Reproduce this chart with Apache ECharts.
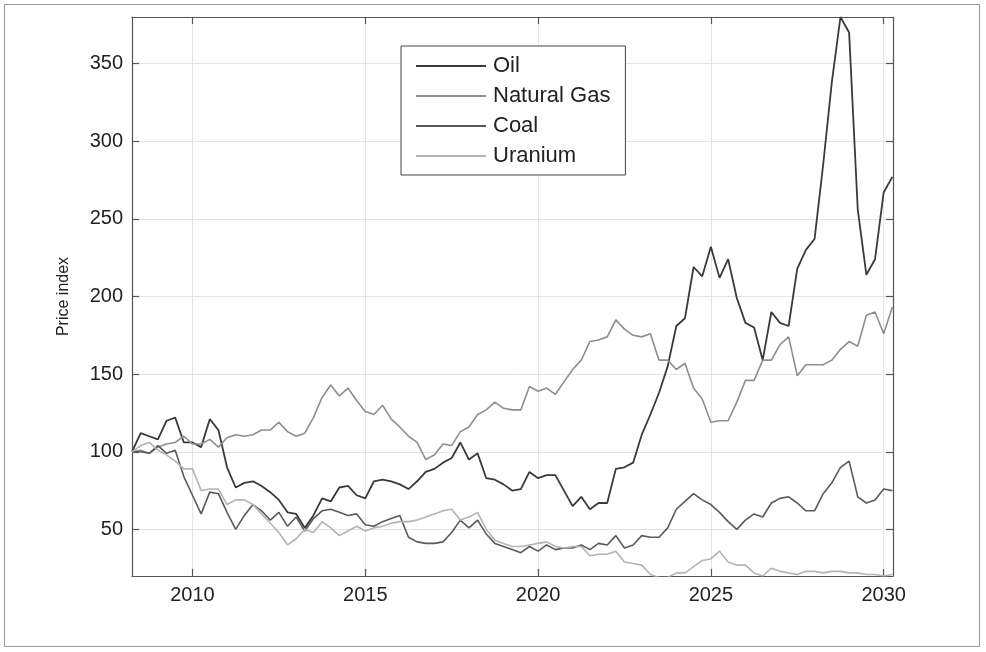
<!DOCTYPE html>
<html>
<head>
<meta charset="utf-8">
<title>Energy price index</title>
<script src="https://cdn.jsdelivr.net/npm/echarts@6/dist/echarts.min.js"></script>
<style>
  html, body { margin: 0; padding: 0; background: #fff; }
  #frame { position: absolute; left: 4px; top: 4px; width: 976px; height: 643px; border: 1px solid #9a9a9a; box-sizing: border-box; }
  #chart { position: absolute; left: 0; top: 0; width: 986px; height: 652px; }
</style>
</head>
<body>
<div id="frame"></div>
<div id="chart"></div>
<script>
// Quarterly price indices (start of series = 100)
const firstQuarter = 2008.25;
const quarterStep = 0.25;

const oil = [
  100, 112, 110, 108, 120, 122, 106, 106, 103, 121, 114, 90, 77, 80, 81, 78,
  74, 69, 61, 60, 51, 59, 70, 68, 77, 78, 72, 70, 81, 82, 81, 79,
  76, 81, 87, 89, 93, 96, 106, 95, 99, 83, 82, 79, 75, 76, 87, 83,
  85, 85, 75, 65, 71, 63, 67, 67, 89, 90, 93, 111, 124, 138, 155, 181,
  186, 219, 213, 232, 212, 224, 199, 183, 180, 159, 190, 183, 181, 218, 230, 237,
  285, 338, 380, 370, 256, 214, 224, 267, 277
];
const naturalGas = [
  100, 101, 99, 103, 105, 106, 110, 105, 105, 108, 103, 109, 111, 110, 111, 114,
  114, 119, 113, 110, 112, 122, 135, 143, 136, 141, 133, 126, 124, 130, 121, 116,
  110, 106, 95, 98, 105, 104, 113, 116, 124, 127, 132, 128, 127, 127, 142, 139,
  141, 137, 145, 153, 159, 171, 172, 174, 185, 179, 175, 174, 176, 159, 159, 153,
  157, 141, 134, 119, 120, 120, 132, 146, 146, 159, 159, 169, 174, 149, 156, 156,
  156, 159, 166, 171, 168, 188, 190, 176, 193
];
const coal = [
  100, 100, 99, 104, 99, 101, 84, 72, 60, 74, 73, 61, 50, 59, 66, 62,
  56, 61, 52, 58, 49, 57, 62, 63, 61, 59, 60, 53, 52, 55, 57, 59,
  45, 42, 41, 41, 42, 48, 56, 51, 56, 47, 41, 39, 37, 35, 39, 36,
  40, 37, 38, 38, 40, 37, 41, 40, 46, 38, 40, 46, 45, 45, 51, 63,
  68, 73, 69, 66, 61, 55, 50, 56, 60, 58, 67, 70, 71, 67, 62, 62,
  73, 80, 90, 94, 71, 67, 69, 76, 75
];
const uranium = [
  100, 104, 106, 101, 98, 94, 89, 89, 75, 76, 76, 66, 69, 69, 66, 60,
  54, 48, 40, 44, 50, 48, 55, 51, 46, 49, 52, 49, 51, 52, 54, 55,
  55, 56, 58, 60, 62, 63, 56, 58, 61, 50, 43, 41, 39, 39, 40, 41,
  42, 39, 38, 39, 39, 33, 34, 34, 36, 29, 28, 27, 21, 19, 19, 22,
  22, 26, 30, 31, 36, 29, 27, 27, 22, 20, 25, 23, 22, 21, 23, 23,
  22, 23, 23, 22, 22, 21, 21, 20, 21
];

const seriesNames = ['Oil', 'Natural Gas', 'Coal', 'Uranium'];
const seriesValues = [oil, naturalGas, coal, uranium];
const xTicks = [2010, 2015, 2020, 2025, 2030];
const yTicks = [50, 100, 150, 200, 250, 300, 350];

const lineColors = ['#3a3a3a', '#8e8e8e', '#5a5a5a', '#b4b4b4'];
const lineWidths = [1.8, 1.6, 1.6, 1.6];

const quarters = oil.map((_, i) => firstQuarter + i * quarterStep);

const FONT = '"Liberation Sans", Arial, Helvetica, sans-serif';
const AXIS_COLOR = '#555';
const GRID_COLOR = '#e4e4e4';

const chart = echarts.init(document.getElementById('chart'), null, { renderer: 'canvas' });

const baseX = {
  type: 'value', min: 2008.25, max: 2030.27,
  axisLine: { show: true, onZero: false, lineStyle: { color: AXIS_COLOR, width: 1.2 } },
  axisTick: { show: true, inside: true, length: 7, customValues: xTicks, lineStyle: { color: AXIS_COLOR, width: 1.2 } }
};
const baseY = {
  type: 'value', min: 20, max: 380,
  axisLine: { show: true, onZero: false, lineStyle: { color: AXIS_COLOR, width: 1.2 } },
  axisTick: { show: true, inside: true, length: 7, customValues: yTicks, lineStyle: { color: AXIS_COLOR, width: 1.2 } }
};

chart.setOption({
  animation: false,
  backgroundColor: 'transparent',
  grid: { left: 132, right: 93, top: 17, bottom: 76, containLabel: false },
  xAxis: [
    Object.assign({}, baseX, {
      position: 'bottom',
      axisLabel: {
        show: true, customValues: xTicks, margin: 9, color: '#222', fontSize: 20, fontFamily: FONT,
        formatter: (v) => String(Math.round(v))
      },
      splitLine: { show: true, lineStyle: { color: GRID_COLOR, width: 1 } }
    }),
    Object.assign({}, baseX, {
      position: 'top',
      axisLabel: { show: false },
      splitLine: { show: false }
    })
  ],
  yAxis: [
    Object.assign({}, baseY, {
      position: 'left',
      name: 'Price index', nameLocation: 'middle', nameGap: 60, nameRotate: 90,
      nameTextStyle: { color: '#222', fontSize: 16, fontFamily: FONT },
      axisLabel: { show: true, customValues: yTicks, margin: 9, color: '#222', fontSize: 20, fontFamily: FONT },
      splitLine: { show: true, lineStyle: { color: GRID_COLOR, width: 1 } }
    }),
    Object.assign({}, baseY, {
      position: 'right',
      axisLabel: { show: false },
      splitLine: { show: false }
    })
  ],
  legend: {
    data: seriesNames,
    orient: 'vertical',
    left: 401, top: 46,
    padding: [9, 15, 8, 15],
    icon: 'rect',
    itemWidth: 70, itemHeight: 2, itemGap: 8,
    backgroundColor: '#fff',
    borderColor: '#444', borderWidth: 1, borderRadius: 0,
    textStyle: { color: '#222', fontSize: 22, lineHeight: 22, fontFamily: FONT, padding: [0, 0, 0, 2] }
  },
  series: seriesNames.map((name, k) => ({
    name: name,
    type: 'line',
    xAxisIndex: 0, yAxisIndex: 0,
    symbol: 'none',
    clip: true,
    data: quarters.map((t, i) => [t, seriesValues[k][i]]),
    lineStyle: { color: lineColors[k], width: lineWidths[k] },
    itemStyle: { color: lineColors[k] },
    emphasis: { disabled: true }
  }))
});
</script>
</body>
</html>
